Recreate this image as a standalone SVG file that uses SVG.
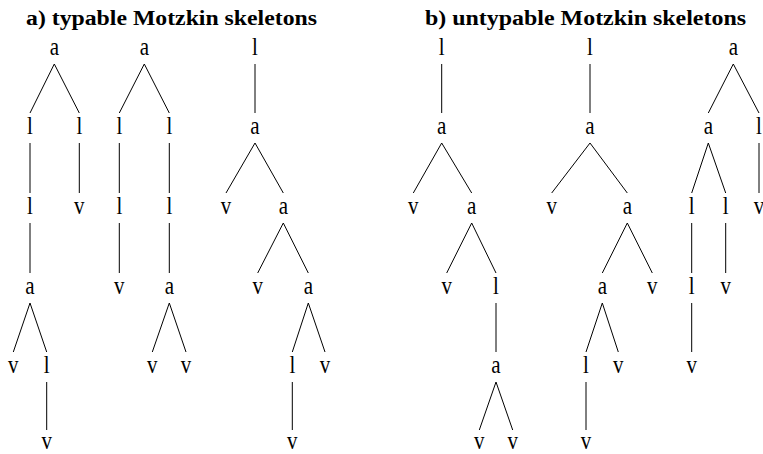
<svg xmlns="http://www.w3.org/2000/svg" width="763" height="454" viewBox="0 0 763 454">
<style>
.t{font-family:"Liberation Serif","Times New Roman",serif;font-weight:bold;font-size:20px;fill:#000}
.n{font-family:"Liberation Serif","Times New Roman",serif;font-size:21px;fill:#000;text-anchor:middle}
.e line{stroke:#000;stroke-width:1;fill:none}
</style>
<rect width="763" height="454" fill="#fff"/>
<text class="t" x="26" y="25" textLength="291" lengthAdjust="spacingAndGlyphs">a) typable Motzkin skeletons</text>
<text class="t" x="425" y="25" textLength="321" lengthAdjust="spacingAndGlyphs">b) untypable Motzkin skeletons</text>
<g id="connectors" class="e">
<line x1="54.3" y1="64" x2="30" y2="113"/><line x1="54.3" y1="64" x2="79.3" y2="113"/>
<line x1="30" y1="143" x2="30" y2="193"/><line x1="79.3" y1="143" x2="79.3" y2="193"/>
<line x1="30" y1="223" x2="30" y2="273"/>
<line x1="30" y1="303" x2="13.3" y2="352"/><line x1="30" y1="303" x2="46.7" y2="352"/>
<line x1="46.7" y1="382" x2="46.7" y2="430"/>
<line x1="144.3" y1="64" x2="119.3" y2="113"/><line x1="144.3" y1="64" x2="169.3" y2="113"/>
<line x1="119.3" y1="143" x2="119.3" y2="193"/><line x1="169.3" y1="143" x2="169.3" y2="193"/>
<line x1="119.3" y1="223" x2="119.3" y2="273"/><line x1="169.3" y1="223" x2="169.3" y2="273"/>
<line x1="169.3" y1="303" x2="152.3" y2="352"/><line x1="169.3" y1="303" x2="186" y2="352"/>
<line x1="255" y1="64" x2="255" y2="113"/>
<line x1="255" y1="143" x2="226" y2="193"/><line x1="255" y1="143" x2="283.3" y2="193"/>
<line x1="283.3" y1="223" x2="257.7" y2="273"/><line x1="283.3" y1="223" x2="308.3" y2="273"/>
<line x1="308.3" y1="303" x2="292.3" y2="352"/><line x1="308.3" y1="303" x2="325" y2="352"/>
<line x1="292.3" y1="382" x2="292.3" y2="430"/>
<line x1="441.7" y1="64" x2="441.7" y2="113"/>
<line x1="441.7" y1="143" x2="413.3" y2="193"/><line x1="441.7" y1="143" x2="471.7" y2="193"/>
<line x1="471.7" y1="223" x2="446.7" y2="273"/><line x1="471.7" y1="223" x2="496" y2="273"/>
<line x1="496" y1="303" x2="496" y2="352"/>
<line x1="496" y1="382" x2="479.3" y2="430"/><line x1="496" y1="382" x2="512.7" y2="430"/>
<line x1="590" y1="64" x2="590" y2="113"/>
<line x1="590" y1="143" x2="551.7" y2="193"/><line x1="590" y1="143" x2="627.3" y2="193"/>
<line x1="627.3" y1="223" x2="602.3" y2="273"/><line x1="627.3" y1="223" x2="652.3" y2="273"/>
<line x1="602.3" y1="303" x2="586" y2="352"/><line x1="602.3" y1="303" x2="618.3" y2="352"/>
<line x1="586" y1="382" x2="586" y2="430"/>
<line x1="733.3" y1="64" x2="708.3" y2="113"/><line x1="733.3" y1="64" x2="759" y2="113"/>
<line x1="708.3" y1="143" x2="691.7" y2="193"/><line x1="708.3" y1="143" x2="725.7" y2="193"/><line x1="759" y1="143" x2="759" y2="193"/>
<line x1="691.7" y1="223" x2="691.7" y2="273"/><line x1="725.7" y1="223" x2="725.7" y2="273"/>
<line x1="691.7" y1="303" x2="691.7" y2="352"/>
</g>
<g id="tree-a1">
<g id="a1-n1"><text class="n" transform="translate(54.3 55) scale(1 1.2)">a</text></g>
<g id="a1-n2"><text class="n" transform="translate(30 134) scale(1 1.2)">l</text></g>
<g id="a1-n3"><text class="n" transform="translate(79.3 134) scale(1 1.2)">l</text></g>
<g id="a1-n4"><text class="n" transform="translate(30 214) scale(1 1.2)">l</text></g>
<g id="a1-n5"><text class="n" transform="translate(79.3 214) scale(1 1.2)">v</text></g>
<g id="a1-n6"><text class="n" transform="translate(30 294) scale(1 1.2)">a</text></g>
<g id="a1-n7"><text class="n" transform="translate(13.3 373) scale(1 1.2)">v</text></g>
<g id="a1-n8"><text class="n" transform="translate(46.7 373) scale(1 1.2)">l</text></g>
<g id="a1-n9"><text class="n" transform="translate(46.7 449) scale(1 1.2)">v</text></g>
</g>
<g id="tree-a2">
<g id="a2-n1"><text class="n" transform="translate(144.3 55) scale(1 1.2)">a</text></g>
<g id="a2-n2"><text class="n" transform="translate(119.3 134) scale(1 1.2)">l</text></g>
<g id="a2-n3"><text class="n" transform="translate(169.3 134) scale(1 1.2)">l</text></g>
<g id="a2-n4"><text class="n" transform="translate(119.3 214) scale(1 1.2)">l</text></g>
<g id="a2-n5"><text class="n" transform="translate(169.3 214) scale(1 1.2)">l</text></g>
<g id="a2-n6"><text class="n" transform="translate(119.3 294) scale(1 1.2)">v</text></g>
<g id="a2-n7"><text class="n" transform="translate(169.3 294) scale(1 1.2)">a</text></g>
<g id="a2-n8"><text class="n" transform="translate(152.3 373) scale(1 1.2)">v</text></g>
<g id="a2-n9"><text class="n" transform="translate(186 373) scale(1 1.2)">v</text></g>
</g>
<g id="tree-a3">
<g id="a3-n1"><text class="n" transform="translate(255 55) scale(1 1.2)">l</text></g>
<g id="a3-n2"><text class="n" transform="translate(255 134) scale(1 1.2)">a</text></g>
<g id="a3-n3"><text class="n" transform="translate(226 214) scale(1 1.2)">v</text></g>
<g id="a3-n4"><text class="n" transform="translate(283.3 214) scale(1 1.2)">a</text></g>
<g id="a3-n5"><text class="n" transform="translate(257.7 294) scale(1 1.2)">v</text></g>
<g id="a3-n6"><text class="n" transform="translate(308.3 294) scale(1 1.2)">a</text></g>
<g id="a3-n7"><text class="n" transform="translate(292.3 373) scale(1 1.2)">l</text></g>
<g id="a3-n8"><text class="n" transform="translate(325 373) scale(1 1.2)">v</text></g>
<g id="a3-n9"><text class="n" transform="translate(292.3 449) scale(1 1.2)">v</text></g>
</g>
<g id="tree-b1">
<g id="b1-n1"><text class="n" transform="translate(441.7 55) scale(1 1.2)">l</text></g>
<g id="b1-n2"><text class="n" transform="translate(441.7 134) scale(1 1.2)">a</text></g>
<g id="b1-n3"><text class="n" transform="translate(413.3 214) scale(1 1.2)">v</text></g>
<g id="b1-n4"><text class="n" transform="translate(471.7 214) scale(1 1.2)">a</text></g>
<g id="b1-n5"><text class="n" transform="translate(446.7 294) scale(1 1.2)">v</text></g>
<g id="b1-n6"><text class="n" transform="translate(496 294) scale(1 1.2)">l</text></g>
<g id="b1-n7"><text class="n" transform="translate(496 373) scale(1 1.2)">a</text></g>
<g id="b1-n8"><text class="n" transform="translate(479.3 449) scale(1 1.2)">v</text></g>
<g id="b1-n9"><text class="n" transform="translate(512.7 449) scale(1 1.2)">v</text></g>
</g>
<g id="tree-b2">
<g id="b2-n1"><text class="n" transform="translate(590 55) scale(1 1.2)">l</text></g>
<g id="b2-n2"><text class="n" transform="translate(590 134) scale(1 1.2)">a</text></g>
<g id="b2-n3"><text class="n" transform="translate(551.7 214) scale(1 1.2)">v</text></g>
<g id="b2-n4"><text class="n" transform="translate(627.3 214) scale(1 1.2)">a</text></g>
<g id="b2-n5"><text class="n" transform="translate(602.3 294) scale(1 1.2)">a</text></g>
<g id="b2-n6"><text class="n" transform="translate(652.3 294) scale(1 1.2)">v</text></g>
<g id="b2-n7"><text class="n" transform="translate(586 373) scale(1 1.2)">l</text></g>
<g id="b2-n8"><text class="n" transform="translate(618.3 373) scale(1 1.2)">v</text></g>
<g id="b2-n9"><text class="n" transform="translate(586 449) scale(1 1.2)">v</text></g>
</g>
<g id="tree-b3">
<g id="b3-n1"><text class="n" transform="translate(733.3 55) scale(1 1.2)">a</text></g>
<g id="b3-n2"><text class="n" transform="translate(708.3 134) scale(1 1.2)">a</text></g>
<g id="b3-n3"><text class="n" transform="translate(759 134) scale(1 1.2)">l</text></g>
<g id="b3-n4"><text class="n" transform="translate(691.7 214) scale(1 1.2)">l</text></g>
<g id="b3-n5"><text class="n" transform="translate(725.7 214) scale(1 1.2)">l</text></g>
<g id="b3-n6"><text class="n" transform="translate(759 214) scale(1 1.2)">v</text></g>
<g id="b3-n7"><text class="n" transform="translate(691.7 294) scale(1 1.2)">l</text></g>
<g id="b3-n8"><text class="n" transform="translate(725.7 294) scale(1 1.2)">v</text></g>
<g id="b3-n9"><text class="n" transform="translate(691.7 373) scale(1 1.2)">v</text></g>
</g>
</svg>
